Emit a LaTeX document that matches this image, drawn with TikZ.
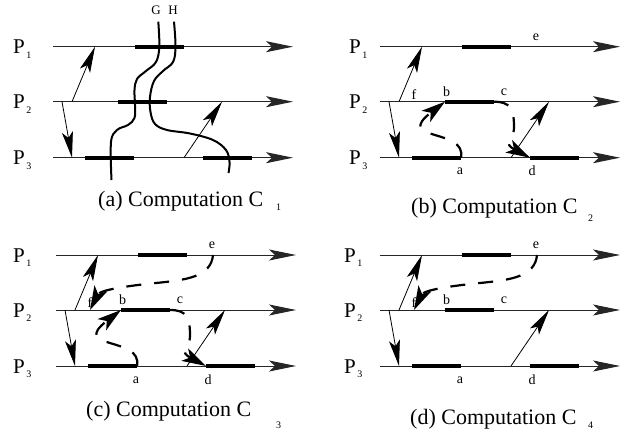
\documentclass[tikz,border=0pt]{standalone}
\usepackage{fontspec}
\setmainfont{Liberation Serif}
\usetikzlibrary{arrows.meta}
\tikzset{
  proc/.style={draw=black!85, line width=1pt, -{Stealth[length=27pt,width=11pt,inset=6pt]}},
  seg/.style={line width=4pt},
  msg/.style={line width=0.8pt, -{Stealth[length=26pt,width=11pt,inset=6pt]}},
  dep/.style={line width=2.2pt, dash pattern=on 15pt off 13pt, -{Stealth[length=24pt,width=14pt,inset=6pt]}},
  cutline/.style={line width=2pt},
  plabel/.style={inner sep=0pt, anchor=base west, font=\fontsize{21}{25}\selectfont},
  ev/.style={inner sep=0pt, font=\fontsize{14}{16}\selectfont},
  captext/.style={inner sep=0pt, anchor=base west, font=\fontsize{22}{26}\selectfont},
  capsub/.style={inner sep=0pt, anchor=base west, font=\fontsize{10}{12}\selectfont},
}
\newcommand\psub[1]{\kern1.5pt\raisebox{-4.5pt}{\fontsize{10}{11}\selectfont #1}}
% #1 prefix, #2 line start x, #3 P1 line y, #4 label x offset
\newcommand\mypanel[4]{%
\begin{scope}[shift={(#2,#3)}]
  \coordinate (#1p1a) at (0,0);   \coordinate (#1p1b) at (240,0);
  \coordinate (#1p2a) at (0,55);  \coordinate (#1p2b) at (240,55);
  \coordinate (#1p3a) at (0,111); \coordinate (#1p3b) at (240,111);
  \node[plabel] (#1l1) at (#4,7) {P\psub{1}};
  \node[plabel] (#1l2) at (#4,62) {P\psub{2}};
  \node[plabel] (#1l3) at (#4,118) {P\psub{3}};
  \draw[proc] (#1p1a) -- (#1p1b);
  \draw[proc] (#1p2a) -- (#1p2b);
  \draw[proc] (#1p3a) -- (#1p3b);
  % thick segments
  \coordinate (#1s1a) at (82,0);   \coordinate (#1s1b) at (131,0);
  \coordinate (#1b) at (65,55);    \coordinate (#1c) at (114,55);
  \coordinate (#1s3a) at (32,111); \coordinate (#1a) at (81,111);
  \coordinate (#1d) at (150,111);  \coordinate (#1s4b) at (199,111);
  \coordinate (#1e) at (157,0);    \coordinate (#1f) at (34,55);
  \draw[seg] (#1s1a) -- (#1s1b);
  \draw[seg] (#1b) -- (#1c);
  \draw[seg] (#1s3a) -- (#1a);
  \draw[seg] (#1d) -- (#1s4b);
  % messages
  \coordinate (#1m1s) at (19,55);  \coordinate (#1m1t) at (42,0);
  \coordinate (#1m2s) at (9,55);   \coordinate (#1m2t) at (19,111);
  \coordinate (#1m3s) at (131,111);\coordinate (#1m3t) at (169,55);
  \draw[msg] (#1m1s) -- (#1m1t);
  \draw[msg] (#1m2s) -- (#1m2t);
  \draw[msg] (#1m3s) -- (#1m3t);
  \coordinate (#1cd) at (134,80);
  \coordinate (#1ef) at (100,28);
\end{scope}}
\newcommand\evlabels[3]{%
\begin{scope}[shift={(#2,#3)}]
  \node[ev] (#1le) at (156,-9.5) {e};
  \node[ev] (#1lf) at (34,48) {f};
  \node[ev] (#1lb) at (66.5,45) {b};
  \node[ev] (#1lc) at (124,45.5) {c};
  \node[ev] (#1la) at (80,125) {a};
  \node[ev] (#1ld) at (152,124.5) {d};
\end{scope}}
\newcommand\depab[1]{\draw[dep] (#1a) .. controls +(6,-30) and +(-52,40) .. (#1b);}
\newcommand\depcd[1]{\draw[dep] (#1c) .. controls +(16,0) and +(0,-18) .. (#1cd) .. controls +(0,16) and +(-28,-15) .. (#1d);}
\newcommand\depef[1]{\draw[dep] (#1e) .. controls +(-2,22) and +(30,-3) .. (#1ef) .. controls +(-30,3) and +(10,-20) .. (#1f);}
\begin{document}
\begin{tikzpicture}[x=1pt,y=-1pt]
\useasboundingbox (0,0) rectangle (624,439);
% (a)
\mypanel{A}{53}{46.7}{-40}
\node[ev, font=\fontsize{13}{15}\selectfont] (G) at (156,10.5) {G};
\node[ev, font=\fontsize{13}{15}\selectfont] (H) at (173,10.5) {H};
\draw[cutline] plot[smooth, tension=0.6] coordinates {(158.3,21.7) (159.3,46.7) (156,62) (146,71) (137,79) (134.5,90) (135,105) (134.5,118) (128,125) (117,130) (111,142) (111.5,180)};
\draw[cutline] plot[smooth, tension=0.6] coordinates {(174,21.7) (175.5,46.7) (173,62) (163,71) (154,81) (150,97) (150.5,112) (155,124) (167,130) (190,133.5) (213,140) (226,150) (229.5,162) (228.5,173)};
\node[captext] (capa) at (98,206) {(a) Computation C};
\node[capsub] (capas) at (276,210) {1};
% (b)
\mypanel{B}{380}{46.7}{-31}
\evlabels{B}{380}{46.7}
\depab{B}
\depcd{B}
\node[captext] (capb) at (411,213) {(b) Computation C};
\node[capsub] (capbs) at (588,221) {2};
% (c)
\mypanel{C}{56}{255}{-43}
\evlabels{C}{56}{255}
\depab{C}
\depcd{C}
\depef{C}
\node[captext] (capc) at (86,416) {(c) Computation C};
\node[capsub] (capcs) at (276,428) {3};
% (d)
\mypanel{D}{380}{255}{-36}
\evlabels{D}{380}{255}
\depef{D}
\node[captext] (capd) at (410,424) {(d) Computation C};
\node[capsub] (capds) at (588,428) {4};
\end{tikzpicture}
\end{document}
